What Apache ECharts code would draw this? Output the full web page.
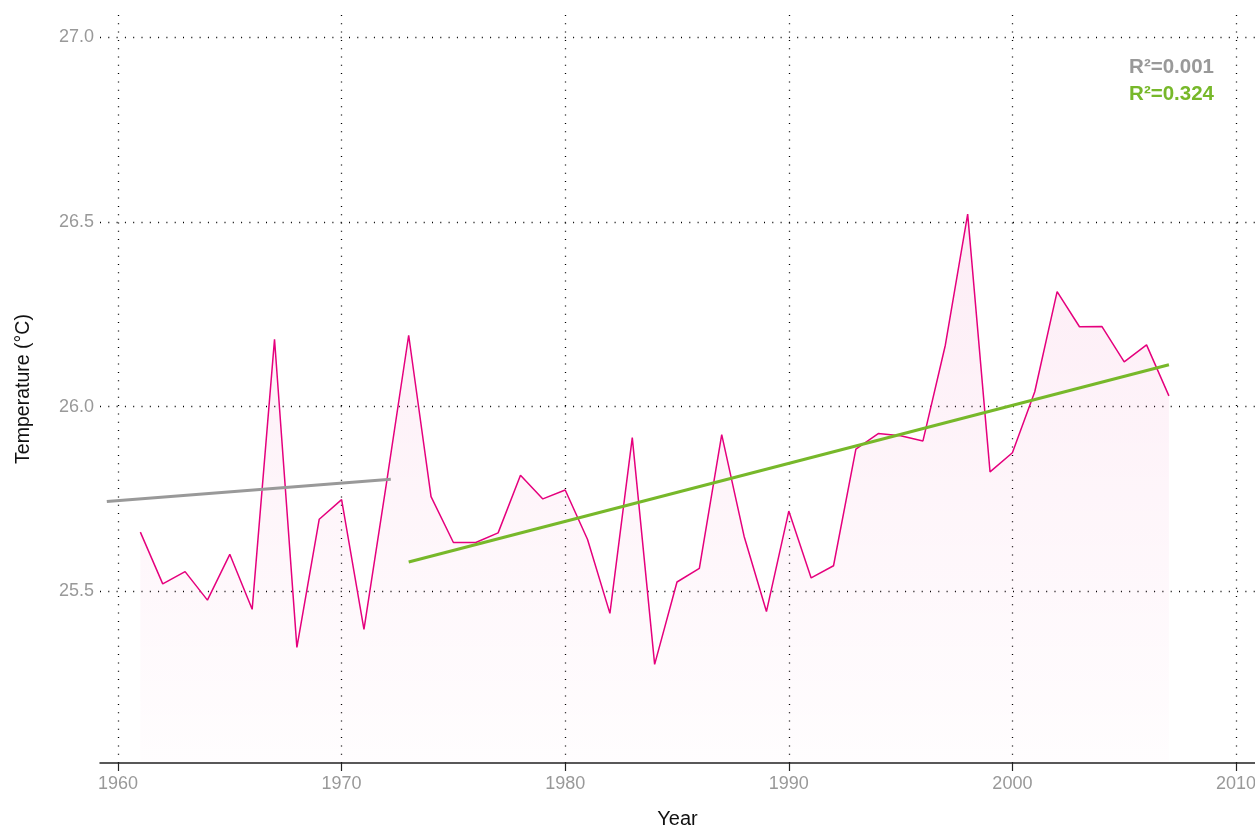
<!DOCTYPE html>
<html>
<head>
<meta charset="utf-8">
<script src="https://cdn.jsdelivr.net/npm/echarts@6/dist/echarts.min.js"></script>
<style>
  html, body { margin: 0; padding: 0; background: #fff; }
  #chart { width: 1255px; height: 827px; }
</style>
</head>
<body>
<div id="chart"></div>
<script>
// 年份与年平均温度
const years = [1961, 1962, 1963, 1964, 1965, 1966, 1967, 1968, 1969, 1970,
  1971, 1972, 1973, 1974, 1975, 1976, 1977, 1978, 1979, 1980,
  1981, 1982, 1983, 1984, 1985, 1986, 1987, 1988, 1989, 1990,
  1991, 1992, 1993, 1994, 1995, 1996, 1997, 1998, 1999, 2000,
  2001, 2002, 2003, 2004, 2005, 2006, 2007]
const temps = [25.66, 25.52, 25.553, 25.476, 25.60, 25.451, 26.182, 25.348, 25.695, 25.748,
  25.397, 25.79, 26.193, 25.756, 25.632, 25.632, 25.658, 25.814, 25.75, 25.774,
  25.64, 25.44, 25.916, 25.302, 25.525, 25.562, 25.924, 25.649, 25.445, 25.717,
  25.536, 25.569, 25.885, 25.927, 25.921, 25.907, 26.166, 26.521, 25.823, 25.875,
  26.04, 26.311, 26.216, 26.217, 26.121, 26.167, 26.029]

// 两段趋势线端点
const trendEarly = [[1959.5, 25.743], [1972.2, 25.803]]
const trendLate = [[1973, 25.579], [2007, 26.113]]

// 刻度
const xTicks = [1960, 1970, 1980, 1990, 2000, 2010]
const yTicks = [25.5, 26.0, 26.5, 27.0]

const FONT = '"Liberation Sans", Arial, sans-serif'
const dotted = { color: '#000', width: 1.3, type: [1, 7.3] }

const chart = echarts.init(document.getElementById('chart'))

const option = {
  backgroundColor: '#fff',
  animation: false,
  grid: { left: 100, right: 0, top: 15, bottom: 64, containLabel: false, outerBoundsMode: 'none' },
  xAxis: {
    type: 'value',
    min: 1959.195,
    max: 2010.85,
    name: 'Year',
    nameLocation: 'middle',
    nameGap: 46,
    nameTextStyle: { color: '#111', fontSize: 20, fontFamily: FONT },
    axisLine: { show: true, lineStyle: { color: '#222', width: 1.5 } },
    axisTick: { show: true, length: 8, customValues: xTicks, lineStyle: { color: '#222', width: 1.2 } },
    axisLabel: {
      customValues: xTicks,
      color: '#999',
      fontSize: 18,
      fontFamily: FONT,
      margin: 12,
      formatter: (v) => String(v)
    },
    splitLine: { show: true, lineStyle: dotted }
  },
  yAxis: {
    type: 'value',
    min: 25.035,
    max: 27.06,
    name: 'Temperature (°C)',
    nameLocation: 'middle',
    nameGap: 66,
    nameTextStyle: { color: '#111', fontSize: 19.5, fontFamily: FONT },
    axisLine: { show: false },
    axisTick: { show: false, customValues: yTicks },
    axisLabel: {
      customValues: yTicks,
      color: '#999',
      fontSize: 18,
      fontFamily: FONT,
      margin: 6,
      formatter: (v) => v.toFixed(1)
    },
    splitLine: { show: true, lineStyle: dotted }
  },
  graphic: [
    {
      type: 'text',
      right: 41,
      top: 57,
      style: { text: 'R²=0.001', fill: '#999', font: 'bold 20.5px ' + FONT }
    },
    {
      type: 'text',
      right: 41,
      top: 84,
      style: { text: 'R²=0.324', fill: '#77b82a', font: 'bold 20.5px ' + FONT }
    }
  ],
  series: [
    {
      type: 'line',
      data: years.map((y, i) => [y, temps[i]]),
      symbol: 'none',
      lineStyle: { color: '#e5007d', width: 1.5 },
      areaStyle: {
        origin: 'start',
        color: new echarts.graphic.LinearGradient(0, 0, 0, 1, [
          { offset: 0, color: 'rgba(229,0,125,0.1)' },
          { offset: 1, color: 'rgba(229,0,125,0.01)' }
        ])
      },
      z: 2
    },
    {
      type: 'line',
      data: trendEarly,
      symbol: 'none',
      lineStyle: { color: '#999', width: 3 },
      z: 3
    },
    {
      type: 'line',
      data: trendLate,
      symbol: 'none',
      lineStyle: { color: '#77b82a', width: 3 },
      z: 3
    }
  ]
}
chart.setOption(option)
</script>
</body>
</html>
